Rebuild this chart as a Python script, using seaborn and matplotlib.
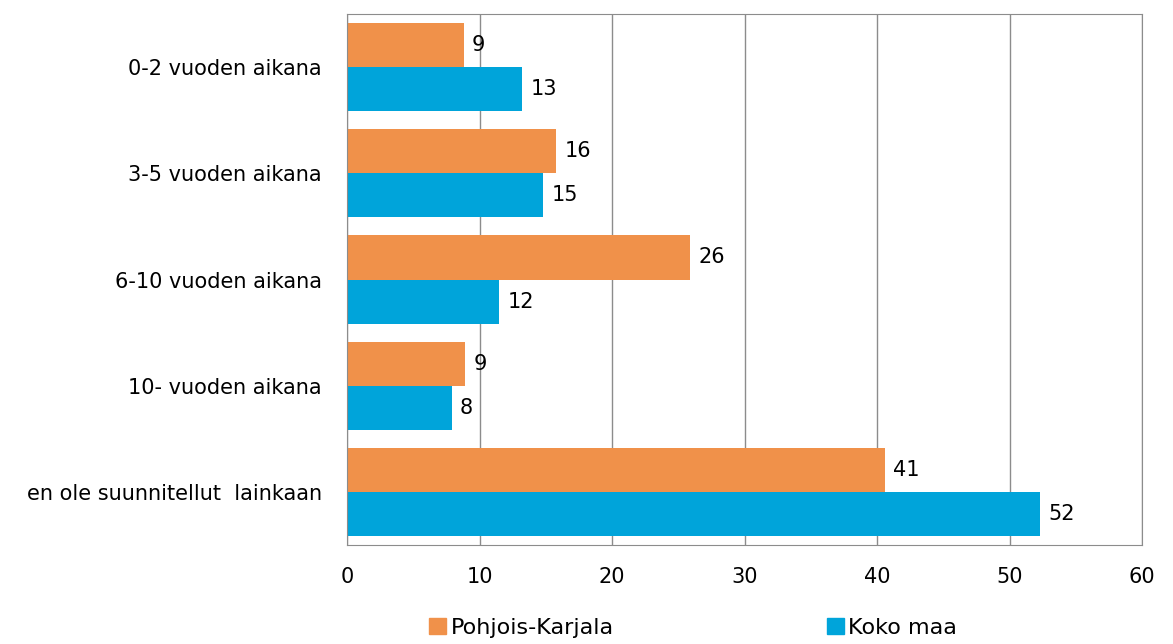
import pandas as pd
import numpy as np
import matplotlib.pyplot as plt
import seaborn as sns

categories = ["0-2 vuoden aikana", "3-5 vuoden aikana", "6-10 vuoden aikana",
              "10- vuoden aikana", "en ole suunnitellut  lainkaan"]
series = ["Pohjois-Karjala", "Koko maa"]
pohjois_karjala = [8.8, 15.8, 25.9, 8.9, 40.6]
koko_maa = [13.2, 14.8, 11.5, 7.9, 52.3]
colors = ["#F0914A", "#00A4DA"]

df = pd.DataFrame({
    "Luokka": categories * 2,
    "Alue": np.repeat(series, len(categories)),
    "Osuus": pohjois_karjala + koko_maa,
})

sns.set_style("white")
plt.rcParams["font.family"] = ["DejaVu Sans"]
plt.rcParams["text.color"] = "black"
plt.rcParams["xtick.color"] = "black"
plt.rcParams["ytick.color"] = "black"

fig = plt.figure(figsize=(11.73, 6.44), dpi=100)
ax = fig.add_axes([347 / 1173, 1 - 545 / 644, (1142 - 347) / 1173, (545 - 14) / 644])

sns.barplot(data=df, y="Luokka", x="Osuus", hue="Alue", orient="h",
            palette=colors, width=0.83, saturation=1, ax=ax, legend=False,
            linewidth=0)

for c in ax.containers:
    ax.bar_label(c, fmt="%.0f", padding=6, fontsize=15, color="black")

ax.set_xlim(0, 60)
ax.set_ylim(4.5, -0.5)
ax.set_xticks(range(0, 61, 10))
ax.set_xlabel("")
ax.set_ylabel("")
ax.xaxis.grid(True, color="#8C8C8C", linewidth=1)
ax.set_axisbelow(True)
for s in ax.spines.values():
    s.set_visible(True)
    s.set_color("#8C8C8C")
ax.tick_params(axis="x", labelsize=15, pad=16, length=0, labelcolor="black")
ax.tick_params(axis="y", labelsize=15, pad=18, length=0, labelcolor="black")

handles = [plt.Rectangle((0, 0), 1, 1, color=col) for col in colors]
fig.legend(handles, series, loc="center", bbox_to_anchor=(0.591, 0.025),
           ncol=2, frameon=False, fontsize=16, handlelength=0.75,
           handleheight=0.75, handletextpad=0.2, columnspacing=9.6,
           labelcolor="black")

fig.savefig("out.png", dpi=100)
